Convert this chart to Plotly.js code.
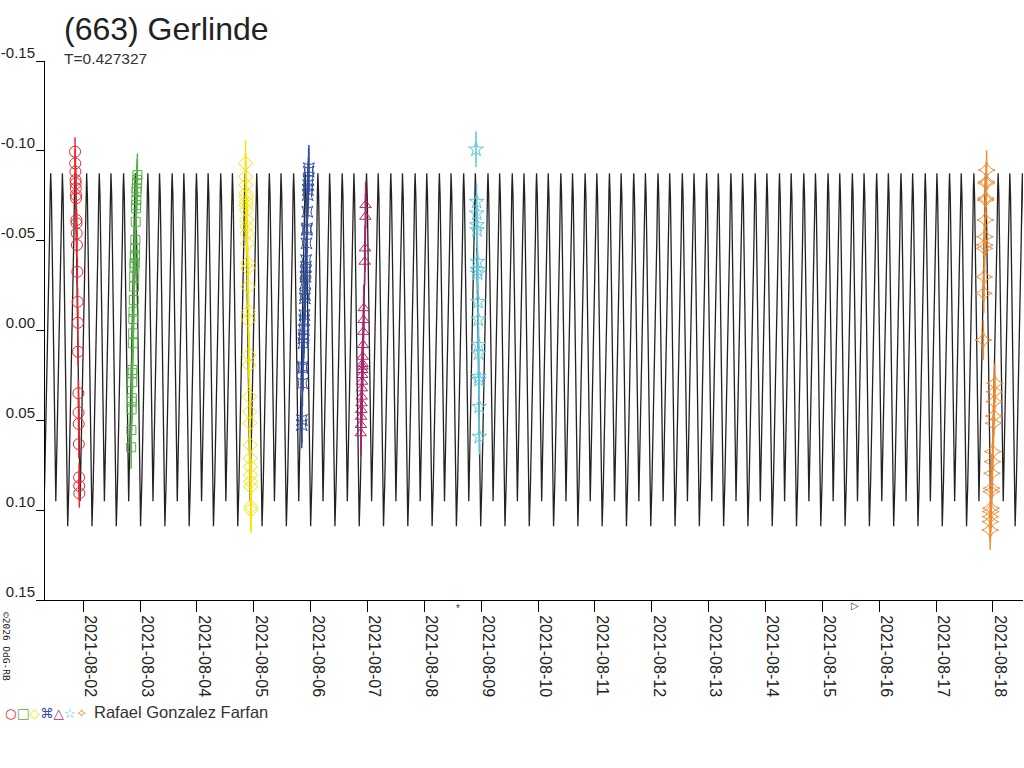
<!DOCTYPE html>
<html>
<head>
<meta charset="utf-8">
<script src="https://cdn.plot.ly/plotly-3.0.1.min.js"></script>
<style>
  body { margin: 0; background: #fff; }
  #plot { width: 1024px; height: 768px; }
</style>
</head>
<body>
<div id="plot"></div>
<script>
// times are days since 2021-08-01 00:00 UT, values are relative magnitudes
const PERIOD = 0.427327;
const MODEL_EPOCH = 8.845;          // time of the deeper minimum
const X_START = '2021-08-01 07:50';
const X_END = '2021-08-18 12:43';

// one rotation of the model lightcurve (phase 0 = deeper minimum)
const modelPhase = [0.00, 0.05, 0.10, 0.15, 0.20, 0.25, 0.28, 0.30, 0.33, 0.38, 0.43, 0.48, 0.51,
                    0.54, 0.60, 0.66, 0.72, 0.76, 0.78, 0.81, 0.86, 0.91, 0.96];
const modelMag = [0.109, 0.085, 0.055, 0.022, -0.012, -0.050, -0.078, -0.0875, -0.075, -0.035, 0.010, 0.065, 0.095,
                  0.075, 0.035, -0.010, -0.055, -0.080, -0.0875, -0.075, -0.030, 0.020, 0.075];

const redTime = [0.855, 0.858, 0.861, 0.864, 0.866, 0.868, 0.871, 0.873, 0.879, 0.881, 0.884, 0.888,
                 0.895, 0.900, 0.904, 0.908, 0.914, 0.917, 0.919, 0.922, 0.926, 0.928, 0.930];
const redMag = [-0.0995, -0.0930, -0.0884, -0.0837, -0.0819, -0.0791, -0.0754, -0.0736, -0.0615, -0.0597, -0.0541, -0.0476,
                -0.0327, -0.0160, -0.0043, 0.0118, 0.0349, 0.0457, 0.0520, 0.0632, 0.0817, 0.0865, 0.0906];

const greenTime = [1.842, 1.846, 1.850, 1.853, 1.855, 1.860, 1.863, 1.865, 1.872, 1.876, 1.880, 1.884, 1.888, 1.892, 1.896,
                   1.900, 1.903, 1.906, 1.909, 1.912, 1.916, 1.922, 1.927, 1.930, 1.933, 1.937, 1.940, 1.944, 1.948, 1.952];
const greenMag = [0.0650, 0.0554, 0.0439, 0.0396, 0.0377, 0.0288, 0.0238, 0.0220, 0.0071, 0.0016, -0.0064, -0.0105, -0.0170, -0.0244, -0.0299,
                  -0.0355, -0.0374, -0.0411, -0.0420, -0.0457, -0.0504, -0.0605, -0.0680, -0.0698, -0.0726, -0.0772, -0.0791, -0.0819, -0.0838, -0.0865];

const yellowTime = [3.853, 3.856, 3.859, 3.862, 3.864, 3.866, 3.868, 3.870, 3.874, 3.877, 3.880, 3.884, 3.890, 3.893, 3.898,
                    3.904, 3.907, 3.914, 3.917, 3.923, 3.927, 3.930, 3.934, 3.937, 3.939, 3.941, 3.943, 3.945, 3.948, 3.950];
const yellowMag = [-0.0930, -0.0856, -0.0810, -0.0763, -0.0745, -0.0717, -0.0698, -0.0671, -0.0615, -0.0578, -0.0541, -0.0485, -0.0374, -0.0346, -0.0244,
                   -0.0105, -0.0058, 0.0136, 0.0192, 0.0368, 0.0452, 0.0516, 0.0637, 0.0711, 0.0758, 0.0804, 0.0841, 0.0869, 0.0981, 0.0999];

const blueTime = [4.843, 4.846, 4.855, 4.860, 4.863, 4.870, 4.874, 4.878, 4.882, 4.887, 4.891, 4.897, 4.900, 4.905,
                  4.909, 4.912, 4.915, 4.919, 4.926, 4.932, 4.935, 4.941, 4.948, 4.952, 4.956, 4.960, 4.964, 4.968];
const blueMag = [0.0526, 0.0498, 0.0294, 0.0210, 0.0201, 0.0071, 0.0043, 0.0025, -0.0003, -0.0058, -0.0086, -0.0179, -0.0198, -0.0262,
                 -0.0299, -0.0327, -0.0355, -0.0392, -0.0485, -0.0559, -0.0569, -0.0661, -0.0754, -0.0782, -0.0810, -0.0837, -0.0884, -0.0903];

const magentaTime = [5.880, 5.884, 5.888, 5.891, 5.894, 5.897, 5.900, 5.903, 5.906, 5.908, 5.910,
                     5.912, 5.916, 5.921, 5.926, 5.930, 5.934, 5.950, 5.955, 5.962, 5.966];
const magentaMag = [0.0572, 0.0526, 0.0480, 0.0442, 0.0405, 0.0368, 0.0322, 0.0285, 0.0248, 0.0220, 0.0201,
                    0.0186, 0.0146, 0.0081, 0.0007, -0.0058, -0.0124, -0.0383, -0.0457, -0.0633, -0.0698];

const cyanTime = [7.908, 7.918, 7.921, 7.924, 7.926, 7.933, 7.936, 7.938, 7.944, 7.948, 7.953, 7.955, 7.959, 7.960, 7.963, 7.966];
const cyanMag = [-0.1008, -0.0717, -0.0652, -0.0587, -0.0559, -0.0383, -0.0337, -0.0318, -0.0160, -0.0062, 0.0081, 0.0127, 0.0257, 0.0275, 0.0424, 0.0591];

const orangeTime = [16.832, 16.840, 16.846, 16.852, 16.856, 16.860, 16.866, 16.872, 16.876, 16.882, 16.886, 16.890,
                    16.952, 16.956, 16.960, 16.963, 16.966, 16.972, 16.976, 16.984, 16.992, 17.000, 17.012, 17.018, 17.024, 17.030, 17.036];
const orangeMag = [0.0053, -0.0207, -0.0299, -0.0457, -0.0476, -0.0522, -0.0615, -0.0726, -0.0736, -0.0819, -0.0828, -0.0893,
                   0.1110, 0.1064, 0.1036, 0.1008, 0.0989, 0.0897, 0.0878, 0.0795, 0.0730, 0.0674, 0.0516, 0.0476, 0.0396, 0.0341, 0.0294];

const yTickVals = [-0.15, -0.10, -0.05, 0.00, 0.05, 0.10, 0.15];
const yTickLabels = ['-0.15', '-0.10', '-0.05', '0.00', '0.05', '0.10', '0.15'];

const OBSERVER = 'Rafael Gonzalez Farfan';
const TITLE = '(663) Gerlinde';

const DAY0 = Date.UTC(2021, 7, 1);
const toDate = t => new Date(DAY0 + t * 86400000).toISOString().replace('T', ' ').replace('Z', '');

// repeat the one-rotation template over the whole time range
const buildModel = () => {
    const x = [], y = [];
    const tMin = -0.4, tMax = 17.6;
    const kMin = Math.floor((tMin - MODEL_EPOCH) / PERIOD);
    const kMax = Math.ceil((tMax - MODEL_EPOCH) / PERIOD);
    for (let k = kMin; k <= kMax; k++) {
        modelPhase.forEach((ph, i) => {
            const t = MODEL_EPOCH + (k + ph) * PERIOD;
            if (t >= tMin && t <= tMax) {
                x.push(toDate(t));
                y.push(modelMag[i]);
            }
        });
    }
    return {x, y};
};

const session = (times, mags, color, symbol, size, err) => ({
    x: times.map(toDate),
    y: mags,
    mode: 'markers',
    type: 'scatter',
    marker: {symbol, size, color, line: {width: 1, color}},
    error_y: {type: 'constant', value: err, visible: true, color, thickness: 1.5, width: 0},
    hoverinfo: 'skip',
    showlegend: false
});

const COLORS = ['#e8262c', '#55b347', '#f7e400', '#2f4d9e', '#b0246c', '#5cc6dc', '#f28a2e'];

const model = buildModel();
const traces = [
    {x: model.x, y: model.y, mode: 'lines', type: 'scatter', line: {color: '#222', width: 1.3}, hoverinfo: 'skip', showlegend: false},
    session(redTime, redMag, COLORS[0], 'circle-open', 11, 0.008),
    session(greenTime, greenMag, COLORS[1], 'square-open', 9, 0.012),
    session(yellowTime, yellowMag, COLORS[2], 'diamond-open', 11, 0.013),
    session(blueTime, blueMag, COLORS[3], 'star-square-open', 10, 0.013),
    session(magentaTime, magentaMag, COLORS[4], 'triangle-up-open', 10, 0.013),
    session(cyanTime, cyanMag, COLORS[5], 'star-open', 11, 0.010),
    session(orangeTime, orangeMag, COLORS[6], 'star-diamond-open', 12, 0.011)
];

// pixel helpers for text placed around the plot area
const L = 45, T = 61, W = 978, H = 539;
const px = x => (x - L) / W;
const py = y => (T + H - y) / H;
const FONT = 'Liberation Sans, Arial, sans-serif';

const legendSymbols = ['○', '□', '◇', '⌘', '△', '☆', '✧']
    .map((s, i) => `<span style="color:${COLORS[i]}">${s}</span>`).join('');

const layout = {
    width: 1024,
    height: 768,
    margin: {l: L, r: 1024 - L - W, t: T, b: 768 - T - H},
    paper_bgcolor: '#fff',
    plot_bgcolor: '#fff',
    showlegend: false,
    font: {family: FONT, color: '#222'},
    xaxis: {
        type: 'date',
        range: [X_START, X_END],
        tick0: '2021-08-02',
        dtick: 86400000,
        tickformat: '%Y-%m-%d',
        tickangle: 90,
        ticks: 'outside',
        ticklen: 11,
        tickcolor: '#000',
        ticklabelshift: 7,
        tickfont: {family: FONT, size: 16, color: '#222'},
        showline: true,
        linecolor: '#000',
        linewidth: 1,
        showgrid: false,
        zeroline: false
    },
    yaxis: {
        range: [0.15, -0.15],
        tickvals: yTickVals,
        ticktext: yTickLabels,
        ticks: 'outside',
        ticklen: 8,
        tickcolor: '#000',
        ticklabelshift: 8,
        ticklabelstandoff: -2,
        tickfont: {family: FONT, size: 15, color: '#222'},
        showline: true,
        linecolor: '#000',
        linewidth: 1,
        showgrid: false,
        zeroline: false
    },
    annotations: [
        {text: TITLE, xref: 'paper', yref: 'paper', x: px(62), y: py(29), xanchor: 'left', yanchor: 'middle',
         showarrow: false, font: {family: FONT, size: 32, color: '#222'}},
        {text: 'T=' + PERIOD, xref: 'paper', yref: 'paper', x: px(62), y: py(58), xanchor: 'left', yanchor: 'middle',
         showarrow: false, font: {family: FONT, size: 15.5, color: '#333'}},
        {text: legendSymbols, xref: 'paper', yref: 'paper', x: px(3), y: py(713), xanchor: 'left', yanchor: 'middle',
         showarrow: false, font: {family: 'DejaVu Sans', size: 13.5}},
        {text: OBSERVER, xref: 'paper', yref: 'paper', x: px(92), y: py(712), xanchor: 'left', yanchor: 'middle',
         showarrow: false, font: {family: FONT, size: 16.5, color: '#333'}},
        {text: '©2026 OdG-RB', xref: 'paper', yref: 'paper', x: px(7), y: py(646), xanchor: 'center', yanchor: 'middle',
         textangle: 90, showarrow: false, font: {family: 'DejaVu Sans Mono', size: 9.5, color: '#222'}},
        {text: '*', xref: 'paper', yref: 'paper', x: px(458), y: py(616), showarrow: false,
         font: {family: FONT, size: 10, color: '#333'}},
        {text: '▷', xref: 'paper', yref: 'paper', x: px(861), y: py(613), showarrow: false,
         font: {family: 'DejaVu Sans', size: 10, color: '#333'}}
    ]
};

Plotly.newPlot('plot', traces, layout, {staticPlot: true, displayModeBar: false});
</script>
</body>
</html>
